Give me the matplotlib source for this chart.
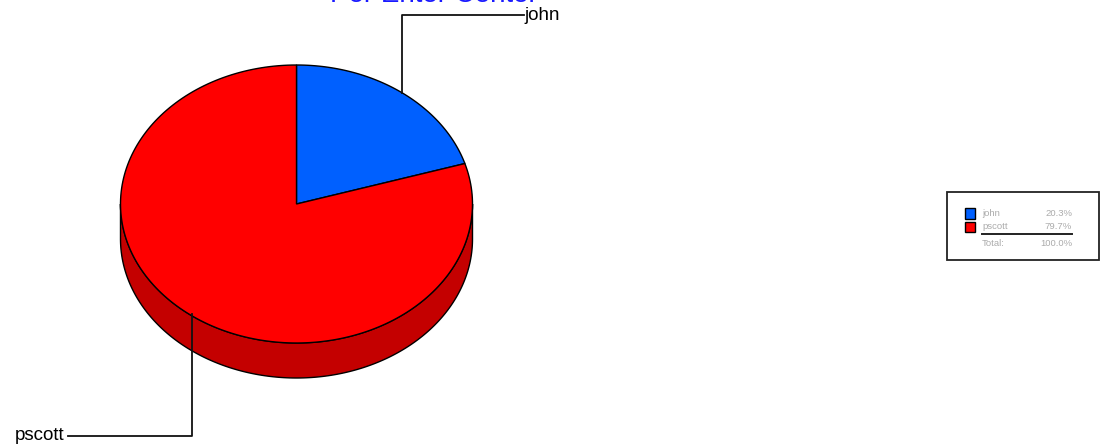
import numpy as np
import matplotlib
matplotlib.use("Agg")
import matplotlib.pyplot as plt
from matplotlib.patches import Polygon, Rectangle

plt.rcParams['font.family'] = ['Liberation Sans', 'DejaVu Sans']

title = "Per Enter Center"
categories = ["john", "pscott"]
values = [20.3, 79.7]
total_label = "100.0%"
colors = ["#0060FF", "#FF0000"]
side_color = "#C40000"

W, H = 1103, 447
fig = plt.figure(figsize=(W / 100, H / 100), dpi=100)
ax = fig.add_axes([0, 0, 1, 1])
ax.set_xlim(0, W)
ax.set_ylim(H, 0)
ax.axis("off")

cx, cy, rx, ry, depth = 296.5, 204, 176, 139, 35


def ell(t_deg, dy=0):
    t = np.radians(t_deg)
    return cx + rx * np.sin(t), cy + dy + ry * -np.cos(t)


fractions = np.array(values) / sum(values) * 360
edges = np.concatenate([[0], np.cumsum(fractions)])

# side wall (visible lower half)
ts = np.linspace(90, 270, 200)
x1, y1 = ell(ts)
x2, y2 = ell(ts[::-1], depth)
ax.add_patch(Polygon(np.r_[np.c_[x1, y1], np.c_[x2, y2]], closed=True,
                     fc=side_color, ec="black", lw=1, zorder=1))

for c, a, b in zip(colors, edges[:-1], edges[1:]):
    ts = np.linspace(a, b, 200)
    x, y = ell(ts)
    pts = np.r_[[[cx, cy]], np.c_[x, y]]
    ax.add_patch(Polygon(pts, closed=True, fc=c, ec="black", lw=1, zorder=2))

# leader lines
ax.plot([402, 402, 524], [93, 15, 15], color="#111111", lw=1.3, zorder=3)
ax.plot([192, 192, 68], [314, 436, 436], color="#111111", lw=1.3, zorder=3)
ax.text(524, 15, categories[0], fontsize=13.5, va="center", ha="left", color="black")
ax.text(64, 435.5, categories[1], fontsize=13.5, va="center", ha="right", color="black")

# title (clipped by the image top, as in the reference)
ax.text(433.5, 2.5, title, fontsize=20, color="#1A1AFF", ha="center", va="baseline", clip_on=True)

# legend
ax.add_patch(Rectangle((946.5, 191.5), 152, 68.5, fc="white", ec="#222222", lw=1.3))
grey = "#ABABAB"
for i, (cat, v, c) in enumerate(zip(categories, values, colors)):
    y = 213 + i * 13.5
    ax.add_patch(Rectangle((965, y - 5), 10, 10.5, fc=c, ec="black", lw=1))
    ax.text(982, y, cat, fontsize=6.8, color=grey, va="center", ha="left")
    ax.text(1072, y, f"{v:.1f}%", fontsize=6.8, color=grey, va="center", ha="right")
ax.plot([982, 1072], [233.5, 233.5], color="#222222", lw=1.4)
ax.text(982, 243, "Total:", fontsize=6.8, color=grey, va="center", ha="left")
ax.text(1072, 243, total_label, fontsize=6.8, color=grey, va="center", ha="right")

fig.savefig("out.png", dpi=100)
